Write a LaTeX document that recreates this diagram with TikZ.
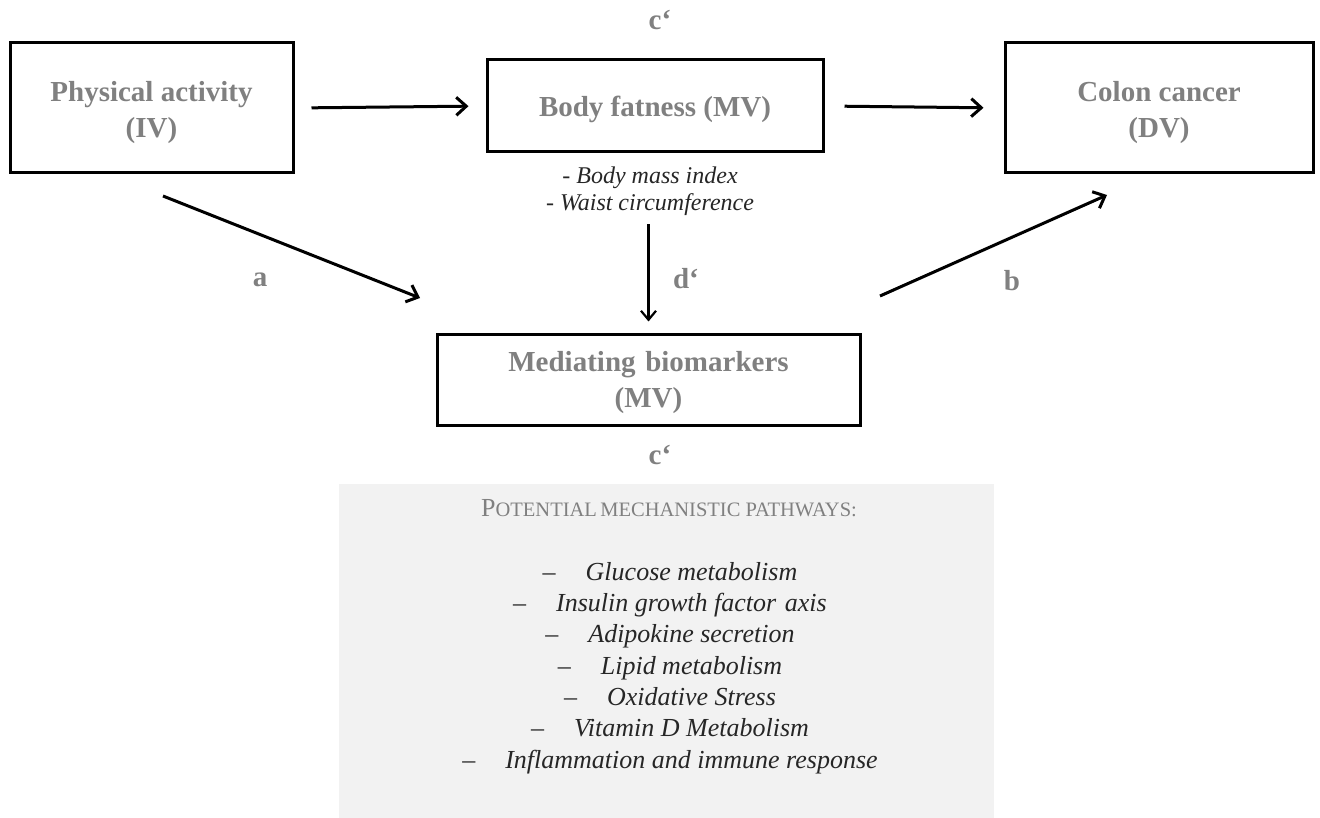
\documentclass[tikz,border=0pt]{standalone}
\usepackage{fontspec}
\setmainfont{Liberation Serif}
\usetikzlibrary{arrows.meta}
\definecolor{lbl}{HTML}{808080}
\definecolor{panel}{HTML}{F2F2F2}
\definecolor{ink}{HTML}{262626}
\begin{document}
\begin{tikzpicture}[x=1pt,y=-1pt,
  varbox/.style={draw=black,line width=3pt,inner sep=0pt},
  vartext/.style={align=center,inner sep=0pt,text=lbl,font=\fontsize{29}{36}\selectfont\bfseries},
  pathlbl/.style={text=lbl,font=\fontsize{29}{32}\selectfont\bfseries,inner sep=0pt},
  conn/.style={line width=3pt,-{Straight Barb[length=10pt,width=18pt,line width=3pt]}},
  thinconn/.style={line width=2.2pt,-{Straight Barb[length=9pt,width=15pt,line width=2.2pt]}},
  note/.style={text=ink,align=center,inner sep=0pt,font=\fontsize{24}{27}\selectfont\itshape},
]
\useasboundingbox (0,0) rectangle (1320,818);
% grey panel
\fill[panel] (339,484) rectangle (994,818);

% boxes
\node[varbox,minimum width=283pt,minimum height=130pt] (PA) at (151.5,108) {};
\node[varbox,minimum width=336pt,minimum height=92pt] (BF) at (655,106) {};
\node[varbox,minimum width=308pt,minimum height=130pt] (CC) at (1159,108) {};
\node[varbox,minimum width=423pt,minimum height=90pt] (MB) at (648.5,380) {};

% box texts
\node[vartext] (PAt) at (151.5,113) {Physical activity\\(IV)};
\node[vartext] (BFt) at (655,109) {Body fatness (MV)};
\node[vartext] (CCt) at (1159,113) {Colon cancer\\(DV)};
\node[vartext] (MBt) at (648.5,383) {Mediating\,\,biomarkers\\(MV)};

% body fatness indicators
\node[note,anchor=north] (BMI) at (650,167) {- Body mass index\\- Waist circumference};

% path labels
\node[pathlbl] (ctop) at (660,20) {c‘};
\node[pathlbl] (la) at (260,280) {a};
\node[pathlbl] (ld) at (686,279) {d‘};
\node[pathlbl] (lb) at (1012,281) {b};
\node[pathlbl] (cbot) at (660,455) {c‘};

% free ends of the diagonal arrows
\coordinate (aS) at (163,196);
\coordinate (aE) at (420,298);
\coordinate (bS) at (880,296);
\coordinate (bE) at (1107,195);

% connectors
\draw[conn,shorten <=17pt,shorten >=17pt] (PA.east) -- (BF.west);
\draw[conn,shorten <=20pt,shorten >=20pt] (BF.east) -- (CC.west);
\draw[conn] (aS) -- (aE);
\draw[conn] (bS) -- (bE);
\draw[thinconn,shorten <=8pt,shorten >=12pt] (BMI.south -| MB.north) -- (MB.north);

% panel text
\node[text=lbl,inner sep=0pt] (head) at (669,508)
  {{\fontsize{26}{28}\selectfont P}{\fontsize{20.5}{28}\selectfont OTENTIAL\,MECHANISTIC PATHWAYS:}};
\node[text=ink,align=center,inner sep=0pt,anchor=north,
  font=\fontsize{26}{31.3}\selectfont\itshape] (list) at (670,562)
  {{\upshape–}\hspace{30pt}Glucose metabolism\\
   {\upshape–}\hspace{30pt}Insulin growth factor\,\,axis\\
   {\upshape–}\hspace{30pt}Adipokine secretion\\
   {\upshape–}\hspace{30pt}Lipid metabolism\\
   {\upshape–}\hspace{30pt}Oxidative Stress\\
   {\upshape–}\hspace{30pt}Vitamin D Metabolism\\
   {\upshape–}\hspace{30pt}Inflammation and immune response};
\end{tikzpicture}
\end{document}
